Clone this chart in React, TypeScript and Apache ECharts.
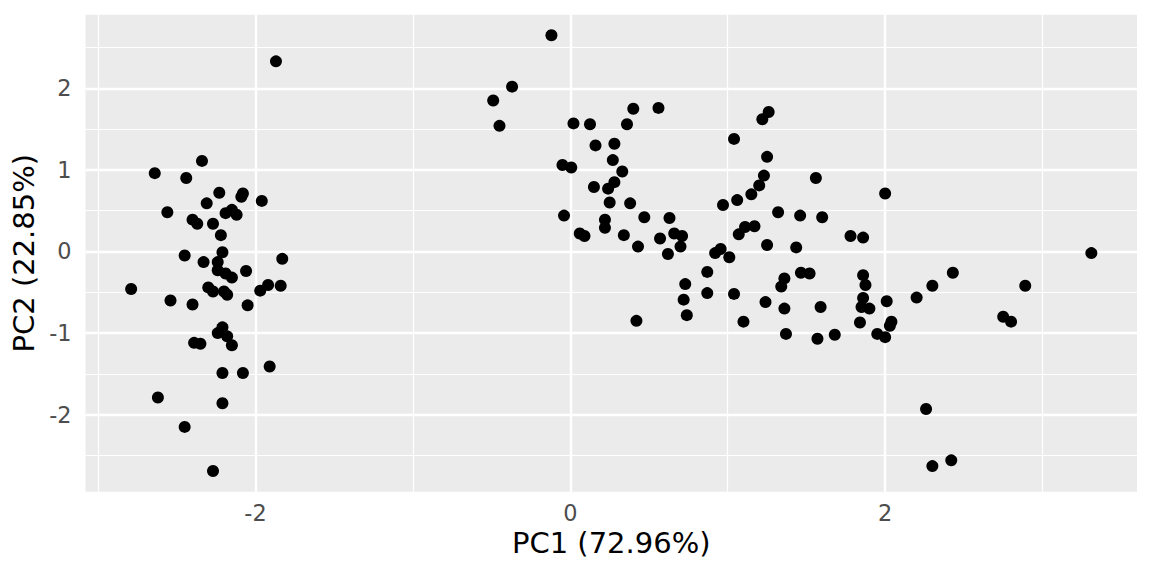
import React, { useEffect, useRef } from "react";
import * as echarts from "echarts";

// Left cluster (PC1, PC2)
const leftPC1 = [
  -1.87, -2.34, -2.64, -2.44, -2.23, -2.08, -2.09, -1.96, -2.31, -2.56,
  -2.19, -2.15, -2.12, -2.4, -2.37, -2.27, -2.22, -2.21, -2.45, -2.33,
  -1.83, -2.24, -2.24, -2.19, -2.15, -2.06, -2.79, -2.3, -2.27, -2.2,
  -2.18, -1.97, -1.92, -1.84, -2.54, -2.4, -2.05, -2.21, -2.24, -2.18,
  -2.15, -2.39, -2.35, -1.91, -2.21, -2.08, -2.62, -2.21, -2.45, -2.27,
];
const leftPC2 = [
  2.33, 1.11, 0.96, 0.9, 0.72, 0.71, 0.67, 0.62, 0.59, 0.48,
  0.47, 0.51, 0.45, 0.39, 0.34, 0.34, 0.2, -0.01, -0.05, -0.13,
  -0.09, -0.13, -0.23, -0.27, -0.32, -0.24, -0.46, -0.44, -0.49, -0.49,
  -0.53, -0.48, -0.41, -0.42, -0.6, -0.65, -0.66, -0.93, -1.0, -1.04,
  -1.15, -1.12, -1.13, -1.41, -1.49, -1.49, -1.79, -1.86, -2.15, -2.69,
];

// Right cluster (PC1, PC2)
const rightPC1 = [
  -0.12, -0.37, -0.49, -0.45, 0.4, 0.56, 0.02, 0.125, 0.36, 0.16,
  0.28, 0.27, 0.33, -0.05, 0.006, 0.28, 0.15, 0.24, 0.25, 0.38,
  -0.04, 0.22, 0.22, 0.47, 0.63, 0.06, 0.09, 0.34, 0.57, 0.66,
  0.71, 0.43, 0.7, 0.62, 0.97, 1.06, 1.15, 1.2, 1.32, 1.07,
  1.11, 1.17, 1.25, 0.92, 0.955, 1.01, 0.87, 0.73, 0.87, 0.72,
  0.74, 0.42, 1.04, 1.1, 1.24, 1.26, 1.22, 1.04, 1.25, 1.23,
  1.56, 2.0, 1.46, 1.6, 1.435, 1.78, 1.86, 1.36, 1.34, 1.36,
  1.465, 1.52, 1.37, 1.57, 1.59, 1.68, 1.86, 1.875, 1.86, 1.85,
  1.9, 1.84, 2.01, 2.04, 2.03, 1.95, 2.0, 2.2, 2.3, 2.43,
  2.89, 2.75, 2.8, 3.31, 2.26, 2.3, 2.42,
];
const rightPC2 = [
  2.65, 2.02, 1.85, 1.54, 1.75, 1.76, 1.57, 1.56, 1.56, 1.3,
  1.32, 1.12, 0.98, 1.06, 1.03, 0.85, 0.79, 0.77, 0.6, 0.59,
  0.44, 0.39, 0.29, 0.42, 0.41, 0.22, 0.19, 0.2, 0.16, 0.22,
  0.19, 0.06, 0.06, -0.03, 0.57, 0.63, 0.7, 0.81, 0.48, 0.21,
  0.3, 0.31, 0.08, -0.02, 0.03, -0.07, -0.25, -0.4, -0.51, -0.59,
  -0.78, -0.85, -0.52, -0.86, -0.62, 1.71, 1.62, 1.38, 1.16, 0.93,
  0.9, 0.71, 0.44, 0.42, 0.05, 0.19, 0.17, -0.33, -0.43, -0.7,
  -0.26, -0.27, -1.01, -1.07, -0.68, -1.02, -0.29, -0.41, -0.57, -0.68,
  -0.7, -0.87, -0.61, -0.86, -0.91, -1.01, -1.05, -0.565, -0.42, -0.26,
  -0.42, -0.8, -0.86, -0.02, -1.93, -2.63, -2.56,
];

// Axis breaks
const xMajor = [-2, 0, 2];
const xMinor = [-3, -1, 1, 3];
const yMajor = [-2, -1, 0, 1, 2];
const yMinor = [-2.5, -1.5, -0.5, 0.5, 1.5, 2.5];
const xRange = [-3.08, 3.6];
const yRange = [-2.944, 2.902];

const xTitle = "PC1 (72.96%)";
const yTitle = "PC2 (22.85%)";

const FONT = "DejaVu Sans";

export default function App() {
  const ref = useRef<HTMLDivElement>(null);

  useEffect(() => {
    if (!ref.current) return;
    const chart = echarts.init(ref.current, undefined, { renderer: "svg" });

    const points: number[][] = [];
    leftPC1.forEach((x, i) => points.push([x, leftPC2[i]]));
    rightPC1.forEach((x, i) => points.push([x, rightPC2[i]]));

    const gridLines = [
      ...xMinor.map((v) => ({ xAxis: v, lineStyle: { color: "#FFFFFF", width: 1.2, type: "solid" } })),
      ...yMinor.map((v) => ({ yAxis: v, lineStyle: { color: "#FFFFFF", width: 1.2, type: "solid" } })),
      ...xMajor.map((v) => ({ xAxis: v, lineStyle: { color: "#FFFFFF", width: 2.4, type: "solid" } })),
      ...yMajor.map((v) => ({ yAxis: v, lineStyle: { color: "#FFFFFF", width: 2.4, type: "solid" } })),
    ];

    chart.setOption({
      animation: false,
      backgroundColor: "#FFFFFF",
      textStyle: { fontFamily: FONT },
      grid: {
        left: 85.5,
        right: 15,
        top: 14.7,
        bottom: 84.3,
        show: true,
        backgroundColor: "#EBEBEB",
        borderWidth: 0,
        containLabel: false,
        outerBoundsMode: "none",
      },
      xAxis: {
        type: "value",
        min: xRange[0],
        max: xRange[1],
        name: xTitle,
        nameLocation: "middle",
        nameGap: 36,
        nameTextStyle: { color: "#000000", fontSize: 29, fontFamily: FONT },
        axisLine: { show: false },
        axisTick: {
          show: true,
          customValues: xMajor,
          length: 7,
          lineStyle: { color: "#333333", width: 2 },
        },
        axisLabel: {
          show: true,
          customValues: xMajor,
          margin: 10,
          color: "#4D4D4D",
          fontSize: 22.4,
          fontFamily: FONT,
        },
        splitLine: { show: false },
      },
      yAxis: {
        type: "value",
        min: yRange[0],
        max: yRange[1],
        name: yTitle,
        nameLocation: "middle",
        nameGap: 43,
        nameRotate: 90,
        nameTextStyle: { color: "#000000", fontSize: 29, fontFamily: FONT },
        axisLine: { show: false },
        axisTick: {
          show: true,
          customValues: yMajor,
          length: 7,
          lineStyle: { color: "#333333", width: 2 },
        },
        axisLabel: {
          show: true,
          customValues: yMajor,
          margin: 14,
          color: "#4D4D4D",
          fontSize: 22.4,
          fontFamily: FONT,
        },
        splitLine: { show: false },
      },
      series: [
        {
          type: "scatter",
          data: points,
          symbol: "circle",
          symbolSize: 12,
          itemStyle: { color: "#000000", opacity: 1 },
          z: 3,
          silent: true,
          markLine: {
            z: 1,
            silent: true,
            symbol: ["none", "none"],
            label: { show: false },
            emphasis: { disabled: true },
            animation: false,
            data: gridLines,
          },
        },
      ],
    });

    return () => {
      chart.dispose();
    };
  }, []);

  return (
    <div
      ref={ref}
      style={{ position: "fixed", left: 0, top: 0, width: 1152, height: 576, background: "#FFFFFF" }}
    />
  );
}
